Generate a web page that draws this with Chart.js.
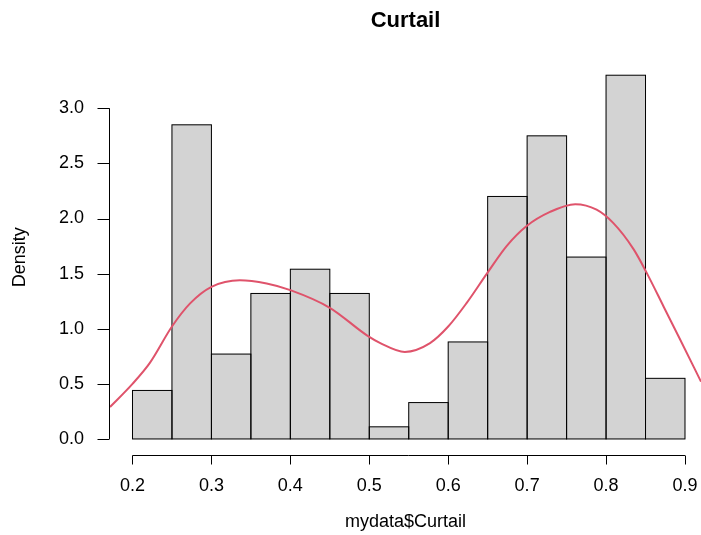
<!DOCTYPE html>
<html>
<head>
<meta charset="utf-8">
<script src="https://cdn.jsdelivr.net/npm/chart.js@4"></script>
<style>
  body { margin: 0; background: #fff; }
  #wrap { width: 701px; height: 535px; }
</style>
</head>
<body>
<div id="wrap"><canvas id="histChart"></canvas></div>
<script>
// histogram bins (mid points) and densities
const binMids = [0.225, 0.275, 0.325, 0.375, 0.425, 0.475, 0.525, 0.575, 0.625, 0.675, 0.725, 0.775, 0.825, 0.875];
const densities = [0.44, 2.85, 0.77, 1.32, 1.54, 1.32, 0.11, 0.33, 0.88, 2.20, 2.75, 1.65, 3.30, 0.55];

// kernel density curve
const curveX = [0.1715, 0.20, 0.222, 0.25, 0.273, 0.30, 0.336, 0.37, 0.40, 0.45, 0.497, 0.514, 0.545, 0.577, 0.60, 0.623, 0.649, 0.674, 0.699, 0.729, 0.761, 0.788, 0.809, 0.835, 0.852, 0.873, 0.894, 0.9203];
const curveY = [0.29, 0.50, 0.69, 1.02, 1.23, 1.38, 1.44, 1.41, 1.35, 1.19, 0.94, 0.87, 0.79, 0.87, 1.02, 1.23, 1.50, 1.75, 1.93, 2.06, 2.13, 2.08, 1.96, 1.72, 1.50, 1.20, 0.90, 0.52];

const xTicks = [0.2, 0.3, 0.4, 0.5, 0.6, 0.7, 0.8, 0.9];
const yTicks = [0.0, 0.5, 1.0, 1.5, 2.0, 2.5, 3.0];

const FONT = "'Liberation Sans', Arial, Helvetica, sans-serif";

// R style outlines for the bars + detached axes
const rStyle = {
  id: "rStyle",
  afterDatasetDraw(chart, args) {
    if (args.meta.type !== "bar") return;
    const ctx = chart.ctx;
    ctx.save();
    ctx.strokeStyle = "#000";
    ctx.lineWidth = 1;
    args.meta.data.forEach(bar => {
      const left = bar.x - bar.width / 2;
      ctx.strokeRect(left, bar.y, bar.width, bar.base - bar.y);
    });
    ctx.restore();
  },
  afterDraw(chart) {
    const { ctx, chartArea, scales: { x, y } } = chart;
    ctx.save();
    ctx.strokeStyle = "#000";
    ctx.lineWidth = 1;
    ctx.beginPath();

    // y axis
    const ax = Math.round(chartArea.left) - 0.5;
    ctx.moveTo(ax, y.getPixelForValue(yTicks[0]));
    ctx.lineTo(ax, y.getPixelForValue(yTicks[yTicks.length - 1]));
    yTicks.forEach(v => {
      const p = Math.round(y.getPixelForValue(v)) + 0.5;
      ctx.moveTo(ax, p);
      ctx.lineTo(ax - 12, p);
    });

    // x axis
    const ay = Math.round(chartArea.bottom) + 1.5;
    ctx.moveTo(x.getPixelForValue(xTicks[0]), ay);
    ctx.lineTo(x.getPixelForValue(xTicks[xTicks.length - 1]), ay);
    xTicks.forEach(v => {
      const p = Math.round(x.getPixelForValue(v)) + 0.5;
      ctx.moveTo(p, ay);
      ctx.lineTo(p, ay + 9);
    });

    ctx.stroke();
    ctx.restore();
  }
};

const ctx = document.getElementById("histChart");

new Chart(ctx, {
  data: {
    datasets: [
      {
        type: "line",
        data: curveX.map((v, i) => ({ x: v, y: curveY[i] })),
        borderColor: "#DF536B",
        borderWidth: 2,
        pointRadius: 0,
        cubicInterpolationMode: "monotone",
        order: 0
      },
      {
        type: "bar",
        data: binMids.map((v, i) => ({ x: v, y: densities[i] })),
        backgroundColor: "#D3D3D3",
        borderWidth: 0,
        barPercentage: 1,
        categoryPercentage: 1,
        grouped: false,
        order: 1
      }
    ]
  },
  options: {
    responsive: true,
    maintainAspectRatio: false,
    animation: false,
    layout: { padding: 0 },
    plugins: {
      legend: { display: false },
      tooltip: { enabled: false },
      title: {
        display: true,
        text: "Curtail",
        fullSize: false,
        color: "#000",
        font: { family: FONT, size: 22, weight: "bold" },
        padding: { top: 8, bottom: 26.6 }
      }
    },
    scales: {
      x: {
        type: "linear",
        min: 0.1715,
        max: 0.9203,
        offset: false,
        grid: { display: false, drawTicks: false },
        border: { display: false },
        afterBuildTicks: s => { s.ticks = xTicks.map(v => ({ value: v })); },
        afterFit: s => {
          s.height = 81.5;
          s.paddingLeft = 0;
          s.paddingRight = 0;
        },
        ticks: {
          autoSkip: false,
          maxRotation: 0,
          padding: 22,
          color: "#000",
          font: { family: FONT, size: 18 },
          callback: v => v.toFixed(1)
        },
        title: {
          display: true,
          text: "mydata$Curtail",
          color: "#000",
          font: { family: FONT, size: 18 },
          padding: { top: 0, bottom: 2 }
        }
      },
      y: {
        type: "linear",
        min: -0.132,
        max: 3.429,
        grid: { display: false, drawTicks: false },
        border: { display: false },
        afterBuildTicks: s => { s.ticks = yTicks.map(v => ({ value: v })); },
        afterFit: s => {
          s.width = 110;
          s.paddingTop = 0;
          s.paddingBottom = 0;
        },
        ticks: {
          autoSkip: false,
          padding: 26,
          color: "#000",
          font: { family: FONT, size: 18 },
          callback: v => v.toFixed(1)
        },
        title: {
          display: true,
          text: "Density",
          color: "#000",
          font: { family: FONT, size: 18 },
          padding: { top: 9, bottom: 0 }
        }
      }
    }
  },
  plugins: [rStyle]
});
</script>
</body>
</html>
